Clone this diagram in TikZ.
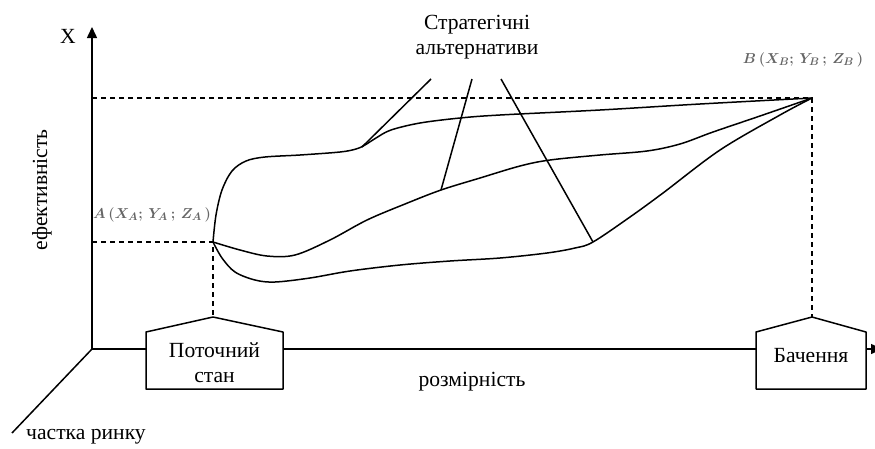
\documentclass[tikz,border=0pt]{standalone}
\usepackage{fontspec}
\setmainfont{Liberation Serif}
\usetikzlibrary{arrows.meta}
\begin{document}
\begin{tikzpicture}[x=1pt,y=-1pt,
  ln/.style={line width=1.5pt, line join=round},
  dsh/.style={line width=1.3pt, dash pattern=on 5pt off 4pt},
  txt/.style={font=\fontsize{21.6}{25}\selectfont, inner sep=0pt, align=center},
  ptlabel/.style={font=\fontsize{15}{18}\selectfont\boldmath, text=black!60, inner sep=0pt},
  axarrow/.style={ln, -{Triangle[width=10pt,length=11pt]}}]
\useasboundingbox (0,0) rectangle (875,448);
% key points
\coordinate (O) at (92,349);
\coordinate (A) at (213,242);
\coordinate (B) at (812,98);
\coordinate (ytop) at (92,27);
\coordinate (xend) at (882,349);
\coordinate (zend) at (12,433);
\coordinate (yA) at (92,242);
\coordinate (yB) at (92,98);
% axes
\draw[axarrow] (O) -- (ytop);
\draw[axarrow] (O) -- (xend);
\draw[ln] (O) -- (zend);
% boxes
\draw[ln, fill=white] (146,389) -- (146,332) -- (213,317) -- (283,332) -- (283,389) -- cycle;
\draw[ln, fill=white] (756,389) -- (756,332) -- (812,317) -- (866,332) -- (866,389) -- cycle;
\coordinate (Atop) at (213,317);
\coordinate (Btop) at (812,317);
\node[txt] (cur) at (214.5,363) {Поточний\\стан};
\node[txt] (vis) at (811,356) {Бачення};
% dashed guides
\draw[dsh] (yA) -- (A) -- (Atop);
\draw[dsh] (yB) -- (B) -- (Btop);
% curves
\draw[ln] plot[smooth, tension=0.55] coordinates {(213,242) (216,215) (222,190) (232,171) (246,161) (265,157) (300,155) (340,152) (356,149) (365,145) (376,138) (391,130) (420,123) (460,118) (500,115) (600,110) (700,104) (812,98)};
\draw[ln] plot[smooth, tension=0.55] coordinates {(213,242) (240,250) (267,256) (295,255) (330,240) (367,220) (405,204) (441,190) (480,178) (520,166) (550,160) (600,155) (647,151) (680,144) (713,132) (760,116) (812,98)};
\draw[ln] plot[smooth, tension=0.55] coordinates {(213,242) (222,258) (235,272) (255,280) (275,282) (310,278) (350,271) (400,265) (450,261) (500,258) (547,253) (575,248) (593,242) (630,217) (663,193) (720,150) (780,115) (812,98)};
% label and pointers
\node[txt] (alt) at (477,37) {Стратегічні\\альтернативи};
\coordinate (p1a) at (431,79); \coordinate (p1b) at (362,147);
\coordinate (p2a) at (472,79); \coordinate (p2b) at (441,190);
\coordinate (p3a) at (501,79); \coordinate (p3b) at (593,242);
\draw[ln] (p1a) -- (p1b);
\draw[ln] (p2a) -- (p2b);
\draw[ln] (p3a) -- (p3b);
% texts
\node[txt] (xl) at (68,36) {X};
\node[txt, rotate=90] (eff) at (42,190) {ефективність};
\node[txt] (dim) at (472,382) {розмірність};
\node[txt] (share) at (86,437) {частка ринку};
\node[ptlabel] (la) at (152,215) {$A\,(X_A;\,Y_A\,;\,Z_A\,)$};
\node[ptlabel] (lb) at (803,60) {$B\,(X_B;\,Y_B\,;\,Z_B\,)$};
\end{tikzpicture}
\end{document}
